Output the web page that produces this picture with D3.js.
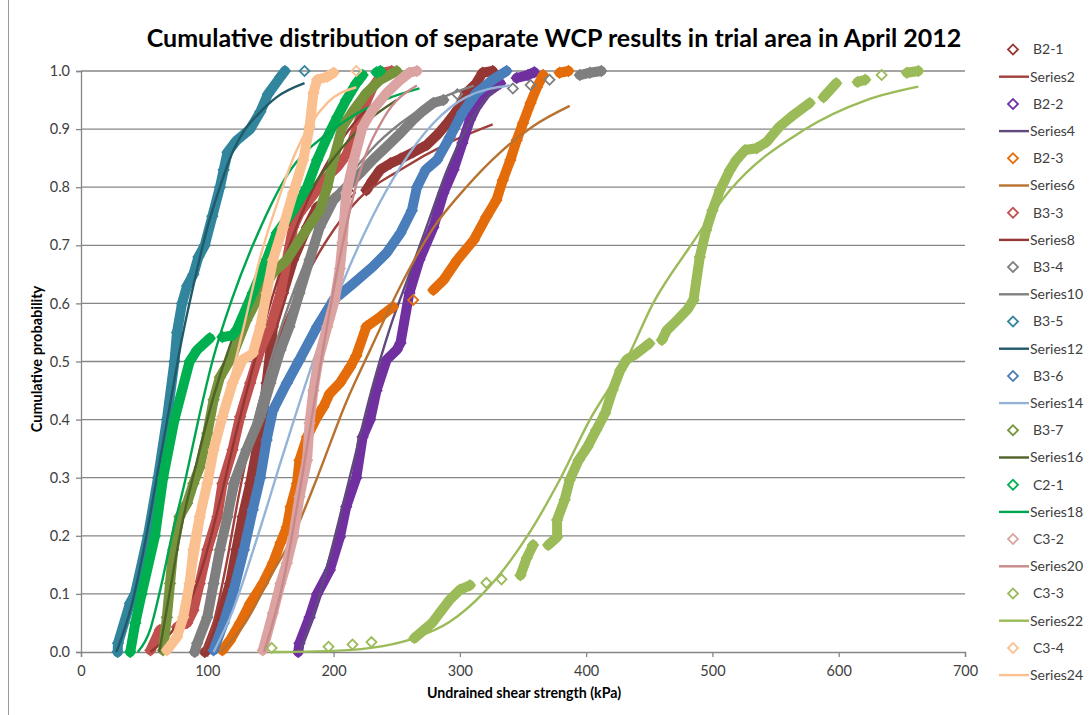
<!DOCTYPE html>
<html><head><meta charset="utf-8">
<script src="https://cdn.jsdelivr.net/npm/d3@7"></script>
<style>
html,body{margin:0;padding:0;background:#fff;}
svg{display:block;font-family:Lato,"Open Sans",sans-serif;}
</style></head><body>
<svg id="chart" width="1089" height="715"></svg>
<script>
// ---- Chart text ----
const chartTitle = "Cumulative distribution of separate WCP results in trial area in April 2012";
const xTitle = "Undrained shear strength (kPa)";
const yTitle = "Cumulative probability";
const xTicks = [0, 100, 200, 300, 400, 500, 600, 700];
const yTicks = [0, 0.1, 0.2, 0.3, 0.4, 0.5, 0.6, 0.7, 0.8, 0.9, 1.0];

// ---- Measured WCP results: [shear strength kPa, cumulative probability] ----
const b21 = [[98,0],[100,0.003],[110,0.06],[118,0.118],[123,0.176],[128,0.233],[134,0.29],[139,0.348],[144,0.405],[147,0.463],[150,0.52],[152,0.56],[160,0.618],[168,0.675],[179,0.731],[187,0.766],[200,0.78],[213,0.79],[226,0.795],[231,0.812],[237,0.83],[245,0.841],[253,0.849],[263,0.86],[274,0.873],[282,0.89],[290,0.91],[298,0.933],[305,0.962],[313,0.979],[318,0.997],[326,1.0]];
const b22 = [[172,0.0],[173,0.015],[181,0.06],[187,0.1],[197,0.141],[205,0.198],[210,0.25],[218,0.3],[223,0.37],[229,0.4],[234,0.45],[242,0.503],[250,0.52],[253,0.532],[260,0.618],[268,0.675],[279,0.731],[287,0.79],[295,0.83],[302,0.876],[308,0.916],[313,0.938],[321,0.962],[332,0.979],[345,0.988],[354,0.993],[359,0.998]];
const b23 = [[112,0.003],[118,0.02],[126,0.05],[134,0.084],[144,0.118],[152,0.153],[158,0.188],[163,0.215],[166,0.25],[171,0.29],[173,0.33],[179,0.37],[187,0.405],[192,0.422],[197,0.445],[205,0.463],[213,0.49],[218,0.51],[226,0.56],[237,0.577],[247,0.594],[263,0.606],[279,0.623],[287,0.64],[298,0.675],[311,0.709],[321,0.749],[329,0.778],[334,0.812],[340,0.847],[345,0.881],[350,0.91],[356,0.945],[361,0.972],[366,0.993],[379,0.997],[386,1.0]];
const b33 = [[55,0.003],[62.5,0.038],[76,0.043],[84,0.05],[89,0.072],[94,0.118],[100,0.176],[108,0.233],[112,0.29],[120,0.348],[126,0.405],[134,0.463],[142,0.52],[150,0.56],[158,0.618],[163,0.675],[168,0.731],[173,0.755],[185,0.79],[195,0.818],[203,0.835],[210,0.855],[215,0.88],[219,0.905],[223,0.933],[231,0.972],[239,0.997],[246,1.0]];
const b34 = [[90,0.0],[92,0.015],[100,0.06],[105,0.118],[110,0.176],[116,0.233],[121,0.29],[131,0.348],[142,0.405],[150,0.463],[158,0.52],[165,0.56],[173,0.618],[181,0.675],[189,0.731],[200,0.778],[210,0.8],[221,0.824],[231,0.847],[242,0.87],[253,0.893],[263,0.916],[270,0.93],[279,0.945],[287,0.95],[298,0.96],[342,0.97],[356,0.976],[371,0.985],[395,0.993],[403,0.997],[412,1.0]];
const b35 = [[29,0.0],[29.3,0.015],[38.8,0.084],[42.8,0.1],[53,0.2],[61,0.3],[68,0.4],[74,0.5],[76,0.55],[80,0.6],[84,0.63],[89,0.65],[93,0.68],[98,0.7],[104,0.75],[110,0.8],[113,0.83],[116,0.86],[123,0.88],[134,0.9],[142,0.93],[148,0.96],[158,0.99],[161.5,1.0],[177,1.0]];
const b36 = [[105,0.003],[113,0.05],[121,0.107],[129,0.176],[136,0.245],[142,0.3],[147,0.365],[152,0.416],[163,0.463],[173,0.503],[187,0.56],[200,0.606],[216,0.635],[231,0.663],[242,0.687],[253,0.721],[262,0.76],[266,0.8],[273,0.83],[282,0.847],[292,0.886],[302,0.928],[313,0.962],[326,0.985],[337,1.0]];
const b37 = [[65,0.003],[68,0.06],[70.5,0.118],[73,0.176],[78,0.233],[84,0.256],[89,0.29],[94,0.318],[100,0.376],[105,0.434],[110,0.473],[120,0.51],[131,0.571],[142,0.618],[152,0.652],[163,0.675],[173,0.709],[184,0.744],[189,0.76],[195,0.8],[200,0.847],[207,0.904],[216,0.933],[226,0.962],[237,0.985],[250,1.0]];
const c21 = [[39,0.0],[43,0.05],[48,0.1],[58.6,0.2],[65,0.3],[74,0.4],[86,0.5],[92,0.52],[102,0.54],[112,0.542],[120,0.545],[123.5,0.555],[136,0.618],[147,0.675],[155,0.721],[168,0.76],[179,0.8],[187,0.847],[195,0.886],[203,0.921],[210,0.95],[218,0.979],[223,0.993],[234,0.998],[237,1.0]];
const c32 = [[144,0.003],[152,0.067],[158,0.118],[163,0.153],[168,0.198],[173,0.267],[179,0.33],[181,0.394],[184,0.45],[188,0.503],[195,0.56],[201,0.606],[205,0.66],[207,0.704],[210,0.79],[216,0.847],[223,0.904],[231,0.933],[242,0.962],[253,0.985],[260,0.997],[266,1.0]];
const c33 = [[151,0.007],[196,0.009],[215,0.013],[230,0.017],[264,0.024],[270,0.035],[278,0.05],[285,0.07],[292,0.09],[300,0.107],[308,0.115],[321,0.119],[333,0.125],[348,0.132],[353,0.162],[358,0.184],[370,0.184],[377,0.198],[377,0.227],[383,0.262],[387,0.296],[394,0.33],[401,0.353],[408,0.382],[415,0.411],[421,0.451],[427,0.485],[432,0.503],[440,0.514],[450,0.531],[460,0.537],[464,0.554],[472,0.571],[480,0.589],[485,0.606],[490,0.68],[495,0.726],[500,0.76],[506,0.795],[514,0.83],[519,0.847],[526,0.864],[535,0.867],[543,0.878],[553,0.904],[564,0.924],[577,0.945],[588,0.955],[598,0.979],[615,0.981],[621,0.985],[634,0.993],[654,0.997],[663,1.0]];
const c34 = [[68,0.003],[76,0.026],[81,0.06],[86,0.118],[89,0.176],[94,0.233],[100,0.29],[105,0.348],[112,0.405],[120,0.463],[128,0.503],[136,0.514],[142,0.56],[147,0.618],[152,0.675],[160,0.731],[168,0.79],[176,0.847],[181,0.904],[184,0.962],[187,0.985],[195,0.99],[200,0.997],[218,1.0]];

// ---- Fitted distribution curves ----
const fitB21 = [[97,0],[105,0.05],[115,0.15],[125,0.27],[140,0.42],[155,0.53],[170,0.61],[195,0.71],[220,0.78],[253,0.83],[290,0.875],[326,0.908]];
const fitB22 = [[173,0],[185,0.07],[200,0.19],[215,0.32],[230,0.45],[245,0.56],[260,0.65],[275,0.74],[290,0.83],[305,0.9],[320,0.95],[332,0.975]];
const fitB23 = [[111,0],[130,0.05],[150,0.13],[168,0.2],[187,0.3],[210,0.43],[229,0.52],[253,0.63],[279,0.73],[305,0.8],[332,0.86],[358,0.905],[387,0.94]];
const fitB33 = [[55,0],[70,0.03],[85,0.08],[98,0.16],[110,0.26],[122,0.37],[135,0.48],[150,0.6],[165,0.7],[180,0.78],[200,0.86],[220,0.92],[246,0.965]];
const fitB34 = [[90,0],[100,0.06],[110,0.15],[120,0.25],[135,0.38],[150,0.5],[170,0.63],[190,0.73],[210,0.81],[230,0.865],[253,0.91],[280,0.948],[311,0.975]];
const fitB35 = [[28,0],[40,0.08],[50,0.18],[60,0.3],[70,0.42],[80,0.54],[90,0.64],[100,0.73],[110,0.8],[120,0.86],[130,0.9],[140,0.925],[155,0.955],[177,0.979]];
const fitB36 = [[105,0],[120,0.07],[140,0.2],[160,0.34],[187,0.52],[210,0.65],[231,0.75],[253,0.835],[279,0.91],[305,0.955],[340,0.975]];
const fitB37 = [[62,0],[70,0.1],[80,0.22],[92,0.33],[105,0.44],[120,0.54],[140,0.64],[160,0.72],[180,0.79],[200,0.85],[225,0.91],[250,0.95]];
const fitC21 = [[45,0],[55,0.04],[62,0.1],[72,0.2],[83,0.3],[93,0.4],[104,0.5],[120,0.61],[140,0.72],[163,0.82],[200,0.9],[240,0.95],[268,0.97]];
const fitC32 = [[145,0],[160,0.12],[175,0.3],[190,0.5],[205,0.68],[220,0.82],[240,0.92],[266,0.975]];
const fitC33 = [[151,0],[200,0.002],[239,0.01],[264,0.024],[292,0.052],[318,0.1],[353,0.198],[379,0.296],[403,0.4],[432,0.503],[453,0.6],[482,0.697],[514,0.795],[572,0.898],[622,0.95],[663,0.973]];
const fitC34 = [[68,0],[80,0.05],[90,0.14],[100,0.27],[110,0.38],[120,0.48],[130,0.57],[142,0.68],[155,0.77],[170,0.86],[195,0.945],[218,0.972]];

const sampleNames = ["B2-1","B2-2","B2-3","B3-3","B3-4","B3-5","B3-6","B3-7","C2-1","C3-2","C3-3","C3-4"];
const fitNames = ["Series2","Series4","Series6","Series8","Series10","Series12","Series14","Series16","Series18","Series20","Series22","Series24"];
const samples = [b21,b22,b23,b33,b34,b35,b36,b37,c21,c32,c33,c34];
const fits = [fitB21,fitB22,fitB23,fitB33,fitB34,fitB35,fitB36,fitB37,fitC21,fitC32,fitC33,fitC34];

const sampleColors = ["#953735","#7030A0","#E46C0A","#C0504D","#7F7F7F","#31859C","#4A7EBB","#77933C","#00B050","#DBA3A1","#9BBB59","#FAC090"];
const fitColors    = ["#A0403C","#604A7B","#B7722F","#943634","#808080","#215968","#95B3D7","#4F6228","#00A550","#C9898A","#9BBB59","#FAC090"];

// ---- Layout ----
const svg = d3.select("#chart");
const plot = {left: 81, right: 965, top: 71, bottom: 652};
const x = d3.scaleLinear().domain([0, 700]).range([plot.left, plot.right]);
const y = d3.scaleLinear().domain([0, 1]).range([plot.bottom, plot.top]);
const axisGrey = "#868686";
const textGrey = "#404040";
const font = "Lato, 'Open Sans', sans-serif";

// outer chart frame
svg.append("rect").attr("x", 8.5).attr("y", -2).attr("width", 1090).attr("height", 730)
  .attr("fill", "none").attr("stroke", "#9a9a9a").attr("stroke-width", 1);

// horizontal gridlines
svg.append("g").selectAll("line").data(yTicks.filter(d => d > 0)).join("line")
  .attr("x1", plot.left).attr("x2", plot.right)
  .attr("y1", d => y(d)).attr("y2", d => y(d))
  .attr("stroke", axisGrey).attr("stroke-width", 1.3);

// axes
const yAxis = svg.append("g").attr("transform", `translate(${plot.left},0)`)
  .call(d3.axisLeft(y).tickValues(yTicks).tickFormat(d3.format(".1f")).tickSize(5).tickPadding(6));
const xAxis = svg.append("g").attr("transform", `translate(0,${plot.bottom})`)
  .call(d3.axisBottom(x).tickValues(xTicks).tickFormat(d3.format("d")).tickSize(5).tickPadding(9));
[yAxis, xAxis].forEach(g => {
  g.select(".domain").attr("stroke", axisGrey).attr("stroke-width", 1.3);
  g.selectAll(".tick line").attr("stroke", axisGrey).attr("stroke-width", 1.3);
  g.selectAll(".tick text").attr("fill", textGrey).attr("font-size", 14.5).attr("font-family", font);
});

// ---- Series ----
const diamond = d3.symbol().type(d3.symbolSquare).size(50);
const fitLine = d3.line().x(d => x(d[0])).y(d => y(d[1])).curve(d3.curveMonotoneX);
const bandLine = d3.line().x(d => x(d[0])).y(d => y(d[1]));

// runs of closely packed markers merge into a solid band
function runs(pts) {
  const out = []; let cur = [pts[0]];
  for (let i = 1; i < pts.length; i++) {
    const a = pts[i - 1], b = pts[i];
    const dx = Math.abs(x(b[0]) - x(a[0])), dy = Math.abs(y(b[1]) - y(a[1]));
    if (dx < 12 || dy > dx * 0.5) cur.push(b); else { out.push(cur); cur = [b]; }
  }
  out.push(cur);
  return out.filter(r => r.length > 1);
}

const series = svg.append("g");
samples.forEach((pts, i) => {
  const g = series.append("g");
  g.selectAll("path.band").data(runs(pts)).join("path").attr("class", "band")
    .attr("d", bandLine).attr("fill", "none").attr("stroke", sampleColors[i])
    .attr("stroke-width", 10).attr("stroke-linejoin", "round").attr("stroke-linecap", "round");
  g.selectAll("path.pt").data(pts).join("path").attr("class", "pt")
    .attr("d", diamond)
    .attr("transform", d => `translate(${x(d[0])},${y(d[1])}) rotate(45)`)
    .attr("fill", "none").attr("stroke", sampleColors[i]).attr("stroke-width", 1.8);
  series.append("path").datum(fits[i]).attr("d", fitLine)
    .attr("fill", "none").attr("stroke", fitColors[i]).attr("stroke-width", 2.4);
});

// ---- Titles ----
svg.append("text").attr("x", 554).attr("y", 47).attr("text-anchor", "middle")
  .attr("font-size", 25).attr("font-weight", "bold").attr("fill", "#000").text(chartTitle);
svg.append("text").attr("x", 524).attr("y", 698).attr("text-anchor", "middle")
  .attr("font-size", 14.2).attr("font-weight", "bold").attr("fill", "#000").text(xTitle);
svg.append("text").attr("transform", "translate(42,359) rotate(-90)").attr("text-anchor", "middle")
  .attr("font-size", 14.5).attr("font-weight", "bold").attr("fill", "#000").text(yTitle);

// ---- Legend ----
const legend = svg.append("g");
const entries = [];
sampleNames.forEach((n, i) => {
  entries.push({name: n, kind: "marker", color: sampleColors[i]});
  entries.push({name: fitNames[i], kind: "line", color: fitColors[i]});
});
entries.forEach((e, i) => {
  const ly = 49.5 + i * 27.2;
  if (e.kind === "marker") {
    legend.append("path").attr("d", diamond).attr("transform", `translate(1013,${ly}) rotate(45)`)
      .attr("fill", "none").attr("stroke", e.color).attr("stroke-width", 1.8);
  } else {
    legend.append("line").attr("x1", 999).attr("x2", 1029).attr("y1", ly).attr("y2", ly)
      .attr("stroke", e.color).attr("stroke-width", 2.4);
  }
  legend.append("text").attr("x", e.kind === "marker" ? 1033 : 1030).attr("y", ly).attr("dy", "0.35em")
    .attr("font-size", 14).attr("fill", textGrey).text(e.name);
});
</script>
</body></html>
